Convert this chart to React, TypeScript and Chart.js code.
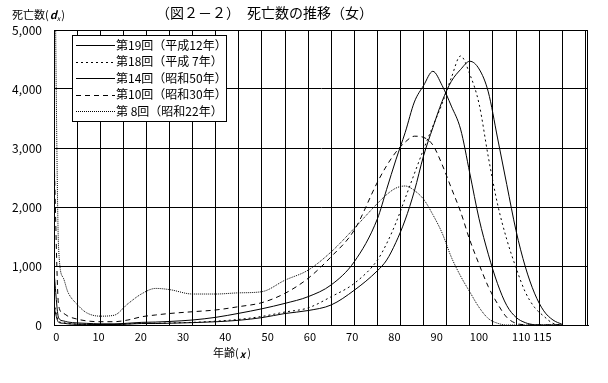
import React, { useEffect, useRef } from "react";
import { Chart, registerables } from "chart.js";

Chart.register(...registerables);

// ---- data (life-table deaths d_x, female, per 100,000) ----
const AGES = [0, 1, 2, 3, 5, 7, 10, 13, 16, 19, 22, 25, 30, 35, 40, 45, 50, 55, 60, 65, 70,
  72, 74, 76, 78, 80, 82, 84, 86, 88, 90, 92, 94, 96, 98, 100, 102, 104, 106, 108, 110];

const SERIES_LABELS = [
  "第19回（平成12年）",
  "第18回（平成 7年）",
  "第14回（昭和50年）",
  "第10回（昭和30年）",
  "第 8回（昭和22年）",
];

const D_19 = [300, 45, 30, 20, 12, 10, 8, 8, 15, 25, 25, 30, 40, 55, 80, 125, 195, 245, 340, 590, 920,
  1100, 1400, 1780, 2270, 2870, 3345, 3790, 4130, 4330, 4470, 4340, 3950, 3170, 2380, 1600, 990, 540, 240, 85, 10];
const D_18 = [380, 60, 40, 25, 15, 12, 10, 10, 20, 30, 30, 35, 45, 65, 95, 145, 220, 290, 480, 706, 1100,
  1380, 1730, 2145, 2565, 2980, 3370, 3750, 4190, 4560, 4250, 3750, 2850, 2050, 1450, 970, 560, 300, 150, 28, 0];
const D_14 = [900, 120, 70, 50, 35, 28, 20, 20, 30, 45, 50, 60, 85, 130, 198, 275, 367, 480, 680, 1073, 1800,
  2300, 2800, 3260, 3780, 4060, 4300, 4060, 3710, 3320, 2570, 1800, 1200, 700, 330, 130, 40, 5, 0, 0, 0];
const D_10 = [2900, 330, 200, 150, 100, 70, 56, 56, 85, 140, 170, 195, 225, 255, 311, 379, 537, 791, 1158, 1610, 2420,
  2700, 2930, 3100, 3200, 3180, 3050, 2720, 2320, 1920, 1440, 1030, 650, 360, 130, 28, 5, 0, 0, 0, 0];
const D_8 = [7700, 1300, 800, 560, 350, 210, 150, 165, 360, 530, 620, 600, 525, 525, 545, 565, 760, 930, 1240, 1640, 2060,
  2210, 2320, 2356, 2280, 2130, 1870, 1560, 1150, 830, 560, 300, 110, 30, 0, 0, 0, 0, 0, 0, 0];

const SERIES_VALUES = [D_19, D_18, D_14, D_10, D_8];
const SERIES_DASH: number[][] = [[], [2, 3], [], [5, 4], [1, 1]];

const Y_TICKS = [0, 1000, 2000, 3000, 4000, 5000];
const X_GRID_TICKS = [0, 5, 10, 15, 20, 25, 30, 35, 40, 45, 50, 55, 60, 65, 70, 75, 80, 85, 90, 95, 100, 105, 110, 115];
const X_LABEL_TICKS = [0, 10, 20, 30, 40, 50, 60, 70, 80, 90, 100, 110, 115];

const TITLE_LEFT = "（図２－２）";
const TITLE_RIGHT = "死亡数の推移（女）";
const Y_TITLE = "死亡数(";
const X_TITLE = "年齢(";

const FONT = "'Noto Sans CJK JP', 'Noto Sans', sans-serif";

const decorPlugin = {
  id: "decor",
  afterDraw(chart: any) {
    const ctx = chart.ctx as CanvasRenderingContext2D;
    const a = chart.chartArea;
    ctx.save();
    // frame
    ctx.strokeStyle = "#000";
    ctx.lineWidth = 1;
    ctx.setLineDash([]);
    ctx.strokeRect(a.left + 0.5, a.top + 0.5, a.right - a.left - 1, a.bottom - a.top);

    ctx.fillStyle = "#000";
    ctx.textBaseline = "middle";
    ctx.textAlign = "left";

    // title
    ctx.font = `14px ${FONT}`;
    ctx.fillText(TITLE_LEFT, 156, 13);
    ctx.fillText(TITLE_RIGHT, 247, 13);

    // y title: 死亡数(dx)
    ctx.font = `11px ${FONT}`;
    let x = 12;
    ctx.fillText(Y_TITLE, x, 15);
    x += ctx.measureText(Y_TITLE).width + 1;
    ctx.font = `italic bold 11px ${FONT}`;
    ctx.fillText("d", x, 15);
    x += ctx.measureText("d").width;
    ctx.font = `italic 7px ${FONT}`;
    ctx.fillText("x", x, 18);
    x += ctx.measureText("x").width + 1;
    ctx.font = `11px ${FONT}`;
    ctx.fillText(")", x, 15);

    // x title: 年齢(x)
    x = 213;
    ctx.font = `11px ${FONT}`;
    ctx.fillText(X_TITLE, x, 353);
    x += ctx.measureText(X_TITLE).width + 1;
    ctx.font = `italic bold 10px ${FONT}`;
    ctx.fillText("x", x, 354);
    x += ctx.measureText("x").width + 2;
    ctx.font = `11px ${FONT}`;
    ctx.fillText(")", x, 353);

    // legend
    const lx = 72, ly = 35, lw = 154, lh = 86;
    ctx.fillStyle = "#fff";
    ctx.fillRect(lx, ly, lw, lh);
    ctx.strokeStyle = "#000";
    ctx.strokeRect(lx + 0.5, ly + 0.5, lw, lh);
    ctx.font = `12px ${FONT}`;
    SERIES_LABELS.forEach((lab, i) => {
      const y = 45 + i * 16.6;
      const yy = Math.round(y) + 0.5;
      ctx.setLineDash(SERIES_DASH[i]);
      ctx.beginPath();
      ctx.moveTo(76, yy);
      ctx.lineTo(115, yy);
      ctx.stroke();
      ctx.setLineDash([]);
      ctx.fillStyle = "#000";
      ctx.fillText(lab, 116, y);
    });
    ctx.restore();
  },
};

export default function App() {
  const ref = useRef<HTMLCanvasElement | null>(null);

  useEffect(() => {
    if (!ref.current) return;
    const datasets = SERIES_VALUES.map((vals, i) => ({
      label: SERIES_LABELS[i],
      data: AGES.map((age, j) => ({ x: age, y: vals[j] })),
      borderColor: "#000",
      backgroundColor: "#000",
      borderWidth: 1,
      borderDash: SERIES_DASH[i],
      pointRadius: 0,
      fill: false,
      cubicInterpolationMode: "monotone" as const,
    }));

    const chart = new Chart(ref.current, {
      type: "line",
      data: { datasets },
      options: {
        responsive: false,
        animation: false,
        devicePixelRatio: 1,
        layout: { padding: { left: 0, right: 20, top: 30, bottom: 0 } },
        plugins: {
          legend: { display: false },
          tooltip: { enabled: false },
          title: { display: false },
        },
        scales: {
          x: {
            type: "linear",
            position: "bottom",
            min: 0,
            max: 115.58,
            afterBuildTicks: (s: any) => {
              s.ticks = X_GRID_TICKS.map((v) => ({ value: v }));
            },
            ticks: { display: false },
            grid: { color: "#000", lineWidth: 1, drawTicks: false },
            border: { display: true, color: "#000" },
            afterFit: (s: any) => {
              s.height = 0;
            },
          },
          x2: {
            type: "linear",
            position: "bottom",
            min: -0.544,
            max: 125.8,
            afterBuildTicks: (s: any) => {
              s.ticks = X_LABEL_TICKS.map((v) => ({ value: v }));
            },
            ticks: {
              color: "#000",
              font: { family: FONT, size: 11 },
              padding: 5,
              maxRotation: 0,
              autoSkip: false,
              callback: (v: any) => String(v),
            },
            grid: { display: false, drawTicks: false },
            border: { display: false },
            afterFit: (s: any) => {
              s.height = 58;
            },
          },
          y: {
            type: "linear",
            min: 0,
            max: 5000,
            afterBuildTicks: (s: any) => {
              s.ticks = Y_TICKS.map((v) => ({ value: v }));
            },
            ticks: {
              color: "#000",
              font: { family: FONT, size: 12 },
              padding: 12,
              callback: (v: any) => Number(v).toLocaleString("en-US"),
            },
            grid: { color: "#000", lineWidth: 1, drawTicks: false },
            border: { display: true, color: "#000" },
            afterFit: (s: any) => {
              s.width = 54;
            },
          },
        },
      } as any,
      plugins: [decorPlugin],
    });
    return () => chart.destroy();
  }, []);

  return (
    <div style={{ position: "fixed", left: 0, top: 0, width: 608, height: 383, background: "#fff" }}>
      <canvas ref={ref} width={608} height={383} style={{ display: "block" }} />
    </div>
  );
}
